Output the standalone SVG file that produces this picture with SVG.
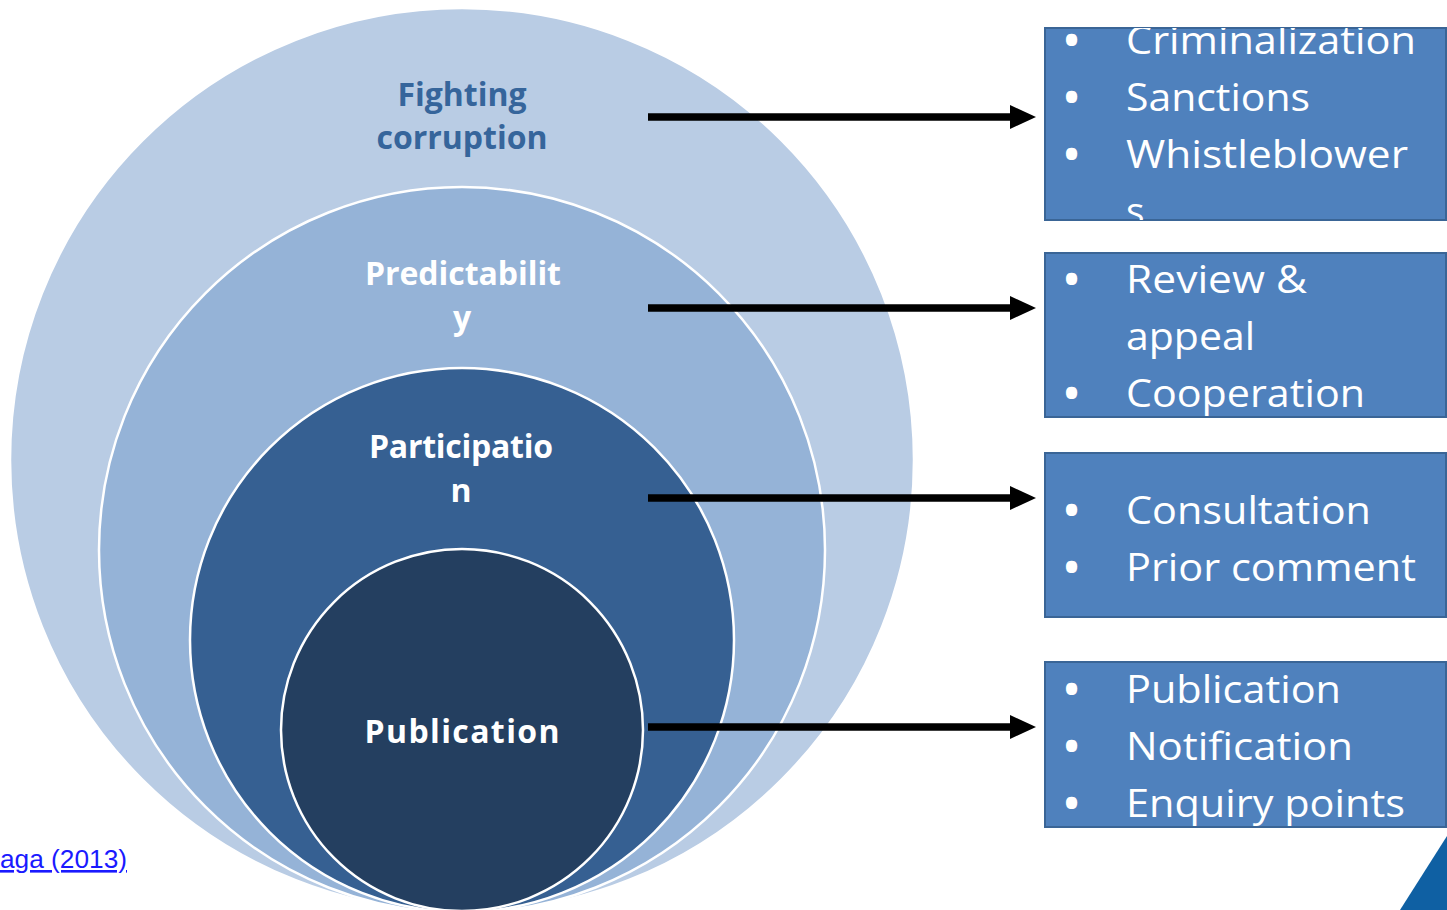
<svg xmlns="http://www.w3.org/2000/svg" width="1447" height="910" viewBox="0 0 1447 910">
<style>
.ring{stroke:#ffffff;stroke-width:2.5}
.lbl{font-family:"Open Sans","Noto Sans",sans-serif;font-weight:bold;font-size:32px;text-anchor:middle}
.box{fill:#4f81bd;stroke:#3a6596;stroke-width:2}
.bt{font-family:"Open Sans","Noto Sans",sans-serif;font-size:39px;fill:#ffffff}
.bu{font-family:"Open Sans","Noto Sans",sans-serif;font-size:40px;font-weight:bold;fill:#ffffff}
.conn{stroke:#000000;stroke-width:7.5;fill:none}
</style>
<defs>
<marker id="ah" markerUnits="userSpaceOnUse" markerWidth="26" markerHeight="24" refX="2" refY="12" orient="auto">
<polygon points="0,0 26,12 0,24" fill="#000000"/>
</marker>
<clipPath id="c1"><rect x="1045" y="28" width="402" height="192"/></clipPath>
</defs>
<rect width="1447" height="910" fill="#ffffff"/>
<g id="circle-fighting">
<circle class="ring" cx="462" cy="460" r="452" fill="#b9cce4"/>
<text class="lbl" fill="#36659b"><tspan x="462" y="106">Fighting</tspan><tspan x="462" y="149">corruption</tspan></text>
</g>
<g id="circle-predictability">
<circle class="ring" cx="462" cy="550" r="363" fill="#95b3d7"/>
<text class="lbl" fill="#ffffff"><tspan x="463" y="285" textLength="196">Predictabilit</tspan><tspan x="462" y="329">y</tspan></text>
</g>
<g id="circle-participation">
<circle class="ring" cx="462" cy="640" r="272" fill="#366092"/>
<text class="lbl" fill="#ffffff"><tspan x="461" y="458" textLength="184">Participatio</tspan><tspan x="461" y="502">n</tspan></text>
</g>
<g id="circle-publication">
<circle class="ring" cx="462" cy="730" r="181" fill="#243f60"/>
<text class="lbl" fill="#ffffff" x="462" y="743" textLength="195">Publication</text>
</g>
<g id="connectors">
<line class="conn" x1="648" y1="117" x2="1012" y2="117" marker-end="url(#ah)"/>
<line class="conn" x1="648" y1="308" x2="1012" y2="308" marker-end="url(#ah)"/>
<line class="conn" x1="648" y1="498" x2="1012" y2="498" marker-end="url(#ah)"/>
<line class="conn" x1="648" y1="727" x2="1012" y2="727" marker-end="url(#ah)"/>
</g>
<g id="box-fighting">
<rect class="box" x="1045" y="28" width="401" height="192"/>
<g clip-path="url(#c1)">
<text class="bu" x="1064" y="54">•</text><text class="bt" x="1126" y="54" textLength="290" lengthAdjust="spacingAndGlyphs">Criminalization</text>
<text class="bu" x="1064" y="111">•</text><text class="bt" x="1126" y="111" textLength="184" lengthAdjust="spacingAndGlyphs">Sanctions</text>
<text class="bu" x="1064" y="168">•</text><text class="bt" x="1126" y="168" textLength="282" lengthAdjust="spacingAndGlyphs">Whistleblower</text>
<text class="bt" x="1126" y="225">s</text>
</g>
</g>
<g id="box-predictability">
<rect class="box" x="1045" y="253" width="401" height="164"/>
<text class="bu" x="1064" y="293">•</text><text class="bt" x="1126" y="293" textLength="181" lengthAdjust="spacingAndGlyphs">Review &amp;</text>
<text class="bt" x="1126" y="350" textLength="129" lengthAdjust="spacingAndGlyphs">appeal</text>
<text class="bu" x="1064" y="407">•</text><text class="bt" x="1126" y="407" textLength="239" lengthAdjust="spacingAndGlyphs">Cooperation</text>
</g>
<g id="box-participation">
<rect class="box" x="1045" y="453" width="401" height="164"/>
<text class="bu" x="1064" y="524">•</text><text class="bt" x="1126" y="524" textLength="245" lengthAdjust="spacingAndGlyphs">Consultation</text>
<text class="bu" x="1064" y="581">•</text><text class="bt" x="1126" y="581" textLength="290" lengthAdjust="spacingAndGlyphs">Prior comment</text>
</g>
<g id="box-publication">
<rect class="box" x="1045" y="662" width="401" height="165"/>
<text class="bu" x="1064" y="703">•</text><text class="bt" x="1126" y="703" textLength="215" lengthAdjust="spacingAndGlyphs">Publication</text>
<text class="bu" x="1064" y="760">•</text><text class="bt" x="1126" y="760" textLength="227" lengthAdjust="spacingAndGlyphs">Notification</text>
<text class="bu" x="1064" y="817">•</text><text class="bt" x="1126" y="817" textLength="279" lengthAdjust="spacingAndGlyphs">Enquiry points</text>
</g>
<text x="0" y="868" font-family="Liberation Sans, Arial, sans-serif" font-size="26" fill="#1a1aff" text-decoration="underline" textLength="127" lengthAdjust="spacingAndGlyphs">aga (2013)</text>
<polygon points="1447,836 1447,910 1400,910" fill="#0f60a3"/>
</svg>
